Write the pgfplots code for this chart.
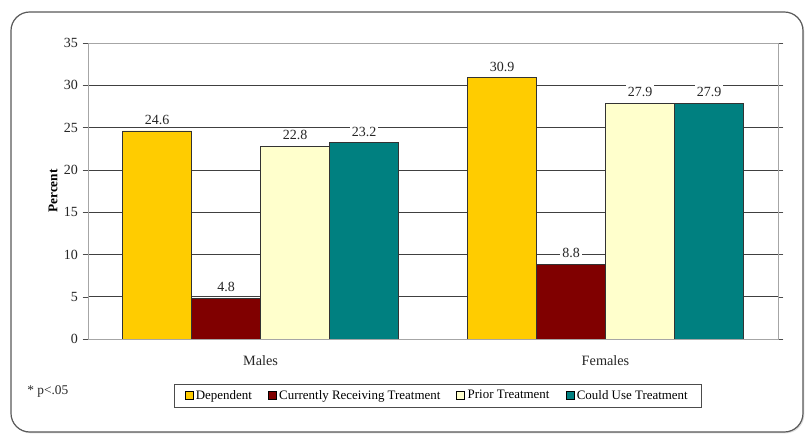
\documentclass[border=0pt]{standalone}
\usepackage{pgfplots}
\pgfplotsset{compat=1.18}
\usepackage{fontspec}
\setmainfont{Liberation Serif}
\usetikzlibrary{shadows}

\definecolor{cDep}{HTML}{FFCC00}
\definecolor{cCur}{HTML}{800000}
\definecolor{cPri}{HTML}{FFFFCC}
\definecolor{cUse}{HTML}{008080}

\begin{document}
\begin{tikzpicture}
\useasboundingbox (0,0) rectangle (604.5pt,326.25pt);
% rounded frame
\draw[gray!70!black, line width=0.9pt, rounded corners=14pt, fill=white,
      drop shadow={shadow xshift=1pt, shadow yshift=-1pt, opacity=0.25}]
    (8.25pt,2.25pt) rectangle (602.25pt,317.25pt);

\begin{axis}[
    at={(66pt,72pt)}, anchor=south west,
    scale only axis,
    width=517.5pt, height=222pt,
    ybar=0pt, bar width=0.2,
    xmin=-0.5, xmax=1.5,
    ymin=0, ymax=35,
    ytick={0,5,...,35},
    xtick={0,1},
    xticklabels={Males, Females},
    major x tick style={draw=none},
    extra x ticks={-0.5,0.5,1.5},
    extra x tick labels={},
    extra x tick style={major tick length=4pt, tick style={draw=black!70}, grid=none},
    tick align=outside,
    major tick length=4pt,
    ytick style={draw=black!70},
    ymajorgrids,
    grid style={black!75, line width=0.5pt},
    axis line style={gray!70, line width=0.6pt},
    ylabel={\bfseries Percent},
    ylabel style={font=\fontsize{10}{12}\selectfont, yshift=-2pt},
    yticklabel style={font=\fontsize{10.5}{12}\selectfont, text=black!85},
    xticklabel style={font=\fontsize{10.7}{12}\selectfont, text=black!85, yshift=-5pt},
    /pgf/number format/assume math mode=true,
    nodes near coords,
    nodes near coords style={font=\fontsize{10.5}{12}\selectfont, fill=white,
        inner sep=1.5pt, yshift=3pt, text=black!85,
        /pgf/number format/.cd, fixed, fixed zerofill, precision=1},
    legend columns=4,
    legend style={at={(0.5065,-0.191)}, anchor=center,
        font=\fontsize{9.7}{11}\selectfont, draw=black!70,
        inner xsep=8pt, inner ysep=2.5pt,
        /tikz/every even column/.append style={column sep=10pt}},
    legend image code/.code={\draw[#1, draw=black, line width=0.5pt] (0pt,-3pt) rectangle (6pt,3pt);},
    legend cell align=left,
]
\addplot[fill=cDep, draw=black!80, line width=0.6pt] coordinates {(0,24.6) (1,30.9)};
\addplot[fill=cCur, draw=black!80, line width=0.6pt] coordinates {(0,4.8) (1,8.8)};
\addplot[fill=cPri, draw=black!80, line width=0.6pt] coordinates {(0,22.8) (1,27.9)};
\addplot[fill=cUse, draw=black!80, line width=0.6pt] coordinates {(0,23.2) (1,27.9)};
\legend{Dependent, Currently Receiving Treatment, Prior Treatment, Could Use Treatment}
\end{axis}

\node[anchor=west, font=\fontsize{10}{12}\selectfont, text=black!85] at (17pt,33pt) {* p<.05};
\end{tikzpicture}
\end{document}
